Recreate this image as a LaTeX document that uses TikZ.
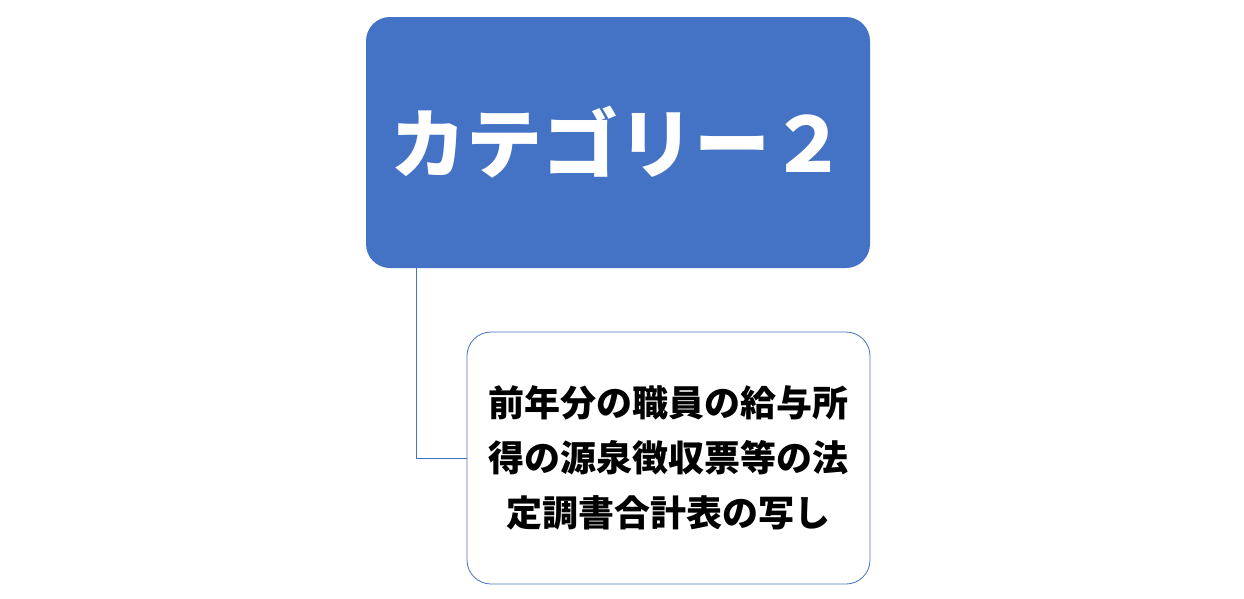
\documentclass[tikz,border=0pt]{standalone}
\usepackage{fontspec}
\setmainfont{Noto Sans CJK JP}
\definecolor{accent}{HTML}{4472C4}
\begin{document}
\begin{tikzpicture}[x=1pt,y=-1pt,
  topbox/.style={fill=accent,draw=none,rounded corners=24pt,minimum width=504pt,minimum height=251pt,inner sep=0pt,text=white,font=\fontsize{76}{84}\selectfont\bfseries},
  subbox/.style={fill=white,draw=accent,line width=0.8pt,rounded corners=24pt,minimum width=403pt,minimum height=252pt,inner sep=0pt,align=center,font=\fontsize{36}{55}\selectfont\bfseries},
  link/.style={draw=accent,line width=1pt}]
\useasboundingbox (0,0) rectangle (1244,598);
\node[topbox] (cat) at (618,142.5) {\raisebox{2pt}{カテゴリー２}};
\node[subbox] (doc) at (668.5,458) {前年分の職員の給与所\\得の源泉徴収票等の法\\定調書合計表の写し};
\coordinate (turn) at (416,458);
\draw[link] (cat.south -| turn) -- (turn) -- (doc.west);
\end{tikzpicture}
\end{document}
